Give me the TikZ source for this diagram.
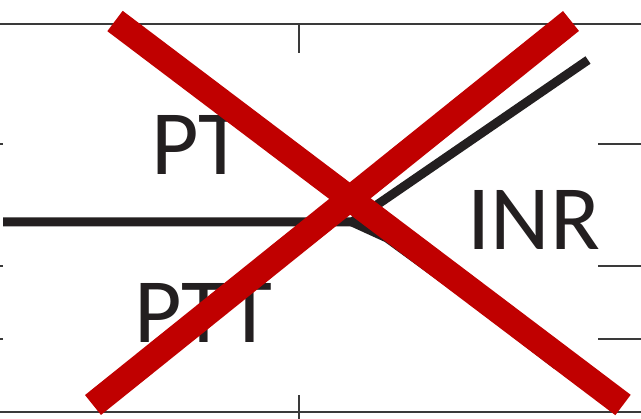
\documentclass[tikz,border=0pt]{standalone}
\usepackage{fontspec}
\setmainfont{Carlito}
\definecolor{tablegray}{HTML}{3A3A3A}
\definecolor{curveblack}{HTML}{231F20}
\definecolor{xred}{HTML}{C00000}
\tikzset{
  tableline/.style={draw=tablegray, line width=1.5pt},
  curveline/.style={draw=curveblack, line width=9pt, line cap=butt},
  redbar/.style={draw=xred, line width=25.5pt, line cap=butt},
  biglabel/.style={font=\fontsize{92}{92}\selectfont, anchor=base, inner sep=0pt, text=curveblack}
}
\begin{document}
\begin{tikzpicture}[x=1pt,y=-1pt]
\useasboundingbox (0,0) rectangle (641,419);
\fill[white] (0,0) rectangle (641,419);
% background table
\coordinate (tl) at (0,24); \coordinate (tr) at (641,24);
\coordinate (bl) at (0,412); \coordinate (br) at (641,412);
\draw[tableline] (tl) -- (tr);
\draw[tableline] (bl) -- (br);
\coordinate (vt1) at (299,24); \coordinate (vt2) at (299,53);
\coordinate (vb1) at (299,395); \coordinate (vb2) at (299,419);
\draw[tableline] (vt1) -- (vt2);
\draw[tableline] (vb1) -- (vb2);
\coordinate (r1a) at (598,144); \coordinate (r1b) at (641,144);
\coordinate (r2a) at (598,266); \coordinate (r2b) at (641,266);
\coordinate (r3a) at (598,339); \coordinate (r3b) at (641,339);
\draw[tableline, line width=1.2pt] (r1a) -- (r1b);
\draw[tableline, line width=2pt] (r2a) -- (r2b);
\draw[tableline, line width=1.2pt] (r3a) -- (r3b);
\coordinate (l1a) at (0,144); \coordinate (l1b) at (3,144);
\coordinate (l2a) at (0,266); \coordinate (l2b) at (3,266);
\coordinate (l3a) at (0,339); \coordinate (l3b) at (3,339);
\draw[tableline, line width=1.2pt] (l1a) -- (l1b);
\draw[tableline, line width=1.5pt] (l2a) -- (l2b);
\draw[tableline, line width=1.2pt] (l3a) -- (l3b);
% white overlay image
\fill[white] (3,53) rectangle (598,395);
% curves
\coordinate (lstart) at (3,222);
\coordinate (jn) at (352,222);
\coordinate (up) at (588,60);
\coordinate (bend) at (387,238);
\coordinate (mid) at (469.4,298);
\coordinate (down) at (556.5,365);
\draw[curveline, line join=miter] (lstart) -- (jn) -- (up);
\draw[curveline, line join=round] (jn) -- (bend) -- (mid) -- (down);
% labels
\node[biglabel] (pt) at (197,175) {PT};
\node[biglabel] (ptt) at (203.5,343) {PTT};
\node[biglabel] (inr) at (534,250) {INR};
% red X
\coordinate (x1a) at (115,21); \coordinate (x1b) at (623,405);
\coordinate (x2a) at (93,405); \coordinate (x2b) at (571,21);
\draw[redbar] (x1a) -- (x1b);
\draw[redbar] (x2a) -- (x2b);
\end{tikzpicture}
\end{document}
